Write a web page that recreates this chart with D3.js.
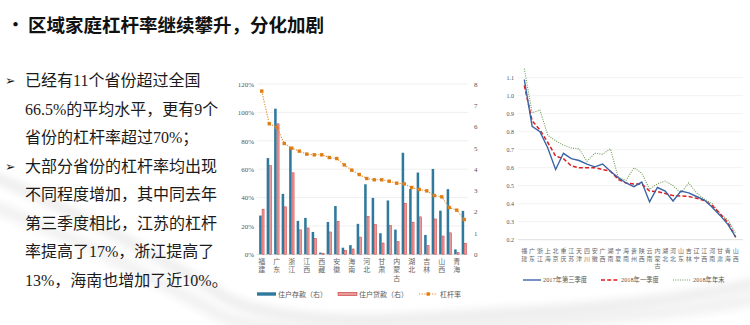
<!DOCTYPE html>
<html>
<head>
<meta charset="utf-8">
<script src="https://cdn.jsdelivr.net/npm/d3@7"></script>
<style>
  html, body { margin: 0; padding: 0; background: #fff; }
  svg { display: block; }
</style>
</head>
<body>
<svg id="slide" width="750" height="325"></svg>
<script>
// ---- slide text ----
const titleText = "区域家庭杠杆率继续攀升，分化加剧";
const bodyLines = [
  "已经有11个省份超过全国",
  "66.5%的平均水平，更有9个",
  "省份的杠杆率超过70%；",
  "大部分省份的杠杆率均出现",
  "不同程度增加，其中同去年",
  "第三季度相比，江苏的杠杆",
  "率提高了17%，浙江提高了",
  "13%，海南也增加了近10%。"
];
const bulletStarts = [0, 3];

// ---- left chart: deposits / loans (right axis, 万亿) and leverage (left axis, %) ----
const leftProvinces = ["福建","江苏","广东","北京","浙江","上海","江西","重庆","西藏","云南",
  "安徽","宁夏","海南","贵州","河北","湖南","甘肃","陕西","内蒙古","山东",
  "湖北","河南","吉林","辽宁","山西","四川","青海","黑龙江"];
const deposits = [1.82, 4.52, 6.84, 2.84, 5.03, 1.57, 1.71, 1.05, 0.08, 1.52,
  2.27, 0.31, 0.43, 1.43, 3.29, 2.65, 0.99, 2.53, 1.16, 4.77,
  3.07, 3.84, 0.91, 4.01, 2.05, 3.06, 0.23, 2.04];
const loans = [2.12, 4.16, 6.13, 2.23, 3.83, 1.15, 1.24, 0.74, 0.05, 1.05,
  1.55, 0.19, 0.25, 0.81, 1.79, 1.39, 0.53, 1.35, 0.59, 2.40,
  1.51, 1.76, 0.41, 1.66, 0.86, 1.01, 0.08, 0.52];
const leverage = [115, 92, 89.4, 78.1, 74.8, 72.7, 70.6, 70.1, 70.1, 68.2,
  67.5, 63.0, 59.3, 56.2, 53.4, 52.5, 52.5, 51.5, 50.1, 49.6,
  47.1, 45.7, 44.7, 41.4, 40.5, 33.0, 31.1, 24.5];
const leftPctTicks = [0, 20, 40, 60, 80, 100, 120];
const leftRightTicks = [0, 1, 2, 3, 4, 5, 6, 7, 8];
const leftLegend = ["住户存款（右）", "住户贷款（右）", "杠杆率"];

// ---- right chart: leverage ratio at three dates ----
const rightProvinces = ["福建","广东","浙江","上海","北京","重庆","江苏","天津","四川","安徽",
  "广西","湖南","宁夏","海南","贵州","陕西","云南","内蒙古","湖北","河北",
  "山东","吉林","辽宁","江西","河南","甘肃","青海","山西"];
const q3_2017 = [1.09, 0.83, 0.80, 0.71, 0.59, 0.68, 0.65, 0.64, 0.62, 0.605,
  0.62, 0.58, 0.545, 0.515, 0.495, 0.52, 0.41, 0.49, 0.47, 0.415,
  0.47, 0.46, 0.44, 0.42, 0.38, 0.335, 0.285, 0.215];
const q1_2018 = [1.057, 0.86, 0.81, 0.74, 0.665, 0.65, 0.61, 0.60, 0.60, 0.60,
  0.59, 0.58, 0.535, 0.515, 0.51, 0.51, 0.47, 0.467, 0.457, 0.445,
  0.443, 0.44, 0.43, 0.417, 0.39, 0.345, 0.295, 0.213];
const end_2018 = [1.15, 0.905, 0.92, 0.78, 0.75, 0.725, 0.71, 0.705, 0.635, 0.68,
  0.675, 0.705, 0.545, 0.53, 0.60, 0.57, 0.48, 0.51, 0.526, 0.50,
  0.46, 0.515, 0.46, 0.425, 0.40, 0.345, 0.31, 0.235];
const rightTicks = [0.2, 0.3, 0.4, 0.5, 0.6, 0.7, 0.8, 0.9, 1.0, 1.1];
const rightLegend = ["2017年第三季度", "2018年一季度", "2018年年末"];

const svg = d3.select("#slide");
const CJK = "'Noto Sans CJK SC', 'Noto Sans', sans-serif";
const MIX = "'Liberation Serif', 'Noto Sans CJK SC', serif";

// ---- soft background swoosh ----
const defs = svg.append("defs");
defs.append("filter").attr("id", "soft").append("feGaussianBlur").attr("stdDeviation", 4);
const bg = svg.append("g").attr("filter", "url(#soft)").attr("fill", "none");
bg.append("path").attr("d", "M-10,175 C60,205 150,250 230,300 C300,330 420,318 520,312 C620,306 700,296 760,282")
  .attr("stroke", "#ececec").attr("stroke-width", 10);
bg.append("path").attr("d", "M-10,205 C70,235 150,275 225,318 C320,345 480,326 600,318 C680,312 720,306 760,298")
  .attr("stroke", "#f1f1f1").attr("stroke-width", 12);

// ---- title ----
svg.append("text").attr("x", 7).attr("y", 31).attr("font-family", CJK)
  .attr("font-size", 17).attr("font-weight", "bold").attr("fill", "#111").text("•");
svg.append("text").attr("x", 28).attr("y", 31.5).attr("font-family", CJK)
  .attr("font-size", 18.5).attr("font-weight", "bold").attr("fill", "#111").text(titleText);

// ---- body text ----
const body = svg.append("g");
bodyLines.forEach((line, i) => {
  const y = 86 + i * 28.5;
  body.append("text").attr("x", 25).attr("y", y).attr("font-family", MIX)
    .attr("font-size", 16).attr("fill", "#1a1a1a").text(line);
  if (bulletStarts.includes(i)) {
    body.append("text").attr("x", 5).attr("y", y - 1).attr("font-family", "'DejaVu Sans', sans-serif")
      .attr("font-size", 12.5).attr("fill", "#1a1a1a").text("➢");
  }
});

// vertical (stacked) category label
function stackedLabel(g, name, x, y0, step, size) {
  const t = g.append("text").attr("text-anchor", "middle").attr("font-family", CJK)
    .attr("font-size", size).attr("fill", "#666");
  Array.from(name).forEach((ch, k) => {
    t.append("tspan").attr("x", x).attr("y", y0 + k * step).text(ch);
  });
}

// ================= left chart =================
const L = svg.append("g");
const xL = d3.scaleBand().domain(leftProvinces).range([258, 468]).padding(0);
const xSub = d3.scaleBand().domain(["dep", "loan"]).range([1.15, 6.35]).paddingInner(0.05);
const yPct = d3.scaleLinear().domain([0, 120]).range([254.3, 84]);
const yAmt = d3.scaleLinear().domain([0, 8]).range([254.3, 84]);

L.append("g").selectAll("line").data(leftPctTicks).join("line")
  .attr("x1", 257).attr("x2", 468)
  .attr("y1", d => yPct(d)).attr("y2", d => yPct(d))
  .attr("stroke", d => d === 0 ? "#d0d0d0" : "#ebebeb").attr("stroke-width", 0.8);

const axL = L.append("g").attr("transform", "translate(254,0)")
  .call(d3.axisLeft(yPct).tickValues(leftPctTicks).tickSize(0).tickPadding(0).tickFormat(d => d + "%"));
axL.select(".domain").remove();
axL.selectAll("text").attr("font-family", "'Liberation Serif', serif").attr("font-size", 7).attr("fill", "#555");

const axR = L.append("g").attr("transform", "translate(474,0)")
  .call(d3.axisRight(yAmt).tickValues(leftRightTicks).tickSize(0).tickPadding(0).tickFormat(d3.format("d")));
axR.select(".domain").remove();
axR.selectAll("text").attr("font-family", "'Liberation Serif', serif").attr("font-size", 7).attr("fill", "#555");

// bars
L.append("g").selectAll("rect").data(leftProvinces).join("rect")
  .attr("x", (d) => xL(d) + xSub("dep"))
  .attr("width", xSub.bandwidth())
  .attr("y", (d, i) => yAmt(deposits[i]))
  .attr("height", (d, i) => yAmt(0) - yAmt(deposits[i]))
  .attr("fill", "#2f7a9c");
L.append("g").selectAll("rect").data(leftProvinces).join("rect")
  .attr("x", (d) => xL(d) + xSub("loan") + 0.25)
  .attr("width", xSub.bandwidth() - 0.5)
  .attr("y", (d, i) => yAmt(loans[i]))
  .attr("height", (d, i) => yAmt(0) - yAmt(loans[i]))
  .attr("fill", "#eb9a9a").attr("stroke", "#c83a3a").attr("stroke-width", 0.5);

// leverage line
const cx = d => xL(d) + xL.bandwidth() / 2;
L.append("path").datum(leftProvinces)
  .attr("d", d3.line().x(d => cx(d)).y((d, i) => yPct(leverage[i])))
  .attr("fill", "none").attr("stroke", "#e8892b").attr("stroke-width", 1.1)
  .attr("stroke-dasharray", "1.2,1.4");
L.append("g").selectAll("rect").data(leftProvinces).join("rect")
  .attr("x", d => cx(d) - 1.7).attr("y", (d, i) => yPct(leverage[i]) - 1.7)
  .attr("width", 3.4).attr("height", 3.4).attr("fill", "#e07d12");

// category labels (every other province)
leftProvinces.forEach((p, i) => {
  if (i % 2 === 0) stackedLabel(L, p, cx(p), 263.5, 8.5, 7);
});

// legend
const lg = L.append("g");
lg.append("rect").attr("x", 257).attr("y", 292.3).attr("width", 19).attr("height", 3.4).attr("fill", "#2f7a9c");
lg.append("text").attr("x", 278).attr("y", 296.5).attr("font-family", CJK).attr("font-size", 7).attr("fill", "#555").text(leftLegend[0]);
lg.append("rect").attr("x", 338).attr("y", 292.3).attr("width", 19).attr("height", 3.4)
  .attr("fill", "#eb9a9a").attr("stroke", "#c83a3a").attr("stroke-width", 0.6);
lg.append("text").attr("x", 359).attr("y", 296.5).attr("font-family", CJK).attr("font-size", 7).attr("fill", "#555").text(leftLegend[1]);
lg.append("line").attr("x1", 419).attr("x2", 437).attr("y1", 294).attr("y2", 294)
  .attr("stroke", "#e8892b").attr("stroke-width", 1.1).attr("stroke-dasharray", "1.2,1.4");
lg.append("rect").attr("x", 426.5).attr("y", 292.3).attr("width", 3.4).attr("height", 3.4).attr("fill", "#e07d12");
lg.append("text").attr("x", 440).attr("y", 296.5).attr("font-family", CJK).attr("font-size", 7).attr("fill", "#555").text(leftLegend[2]);

// ================= right chart =================
const R = svg.append("g");
const xR = d3.scalePoint().domain(rightProvinces).range([524.3, 735.7]);
const yR = d3.scaleLinear().domain([0.2, 1.1]).range([239.7, 77.7]);

R.append("g").selectAll("line").data(rightTicks).join("line")
  .attr("x1", 518).attr("x2", 743)
  .attr("y1", d => yR(d)).attr("y2", d => yR(d))
  .attr("stroke", d => d === 0.2 ? "#d6d6d6" : "#ededed").attr("stroke-width", 0.8);

const axRR = R.append("g").attr("transform", "translate(514,0)")
  .call(d3.axisLeft(yR).tickValues(rightTicks).tickSize(0).tickPadding(0).tickFormat(d3.format(".1f")));
axRR.select(".domain").remove();
axRR.selectAll("text").attr("font-family", "'Liberation Serif', serif").attr("font-size", 6).attr("fill", "#555");

const series = [
  { name: rightLegend[0], values: q3_2017, color: "#3b64a6", width: 1.4, dash: null },
  { name: rightLegend[1], values: q1_2018, color: "#e01b1b", width: 1.5, dash: "4,2.2" },
  { name: rightLegend[2], values: end_2018, color: "#6f9a55", width: 1.1, dash: "1,1.3" }
];
const lineR = vals => d3.line().x(d => xR(d)).y((d, i) => yR(vals[i]))(rightProvinces);
series.slice().reverse().forEach(s => {
  R.append("path").attr("d", lineR(s.values)).attr("fill", "none")
    .attr("stroke", s.color).attr("stroke-width", s.width)
    .attr("stroke-dasharray", s.dash);
});

rightProvinces.forEach(p => stackedLabel(R, p, xR(p), 253, 7.5, 6));

// legend
const legX = [523, 601, 673];
series.forEach((s, i) => {
  R.append("line").attr("x1", legX[i]).attr("x2", legX[i] + 18).attr("y1", 280).attr("y2", 280)
    .attr("stroke", s.color).attr("stroke-width", s.width).attr("stroke-dasharray", s.dash);
  R.append("text").attr("x", legX[i] + 20).attr("y", 282.3).attr("font-family", MIX)
    .attr("font-size", 6.3).attr("fill", "#555").text(s.name);
});
</script>
</body>
</html>
